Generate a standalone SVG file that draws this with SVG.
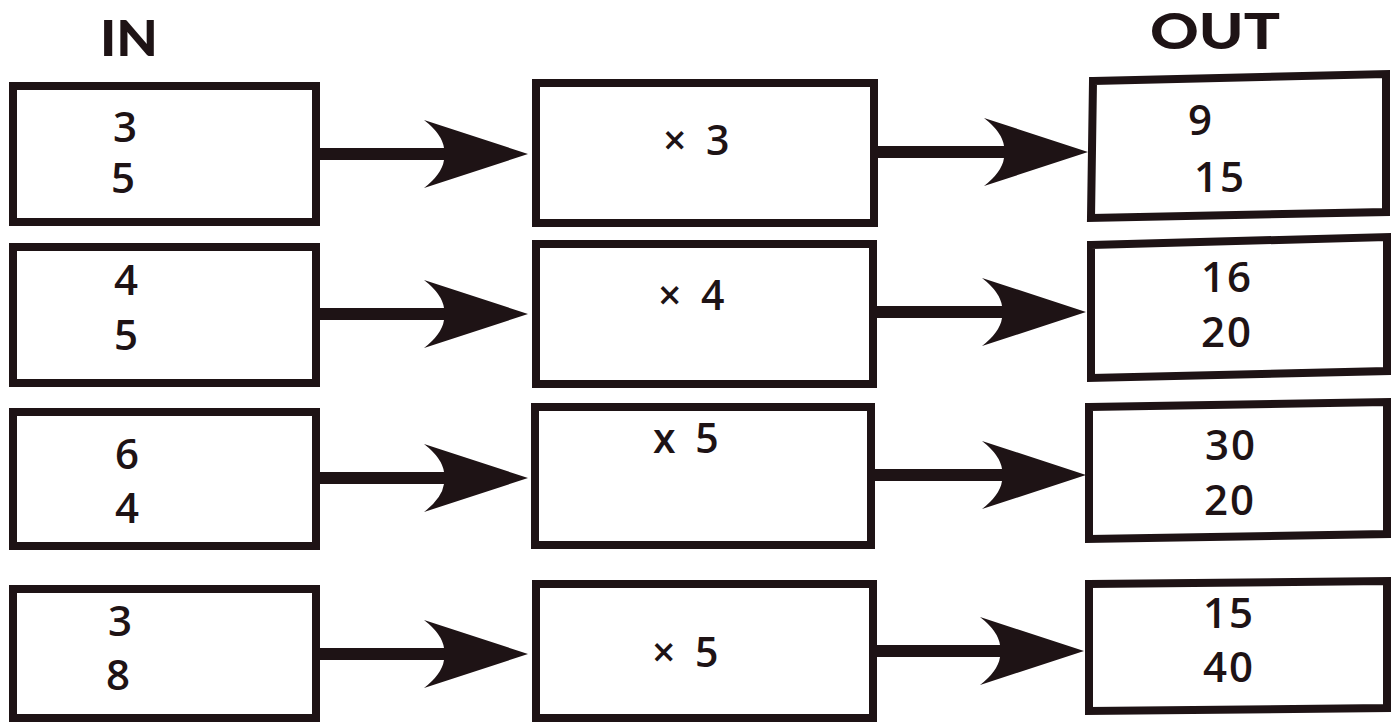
<svg xmlns="http://www.w3.org/2000/svg" width="1392" height="724" viewBox="0 0 1392 724">
<style>
.box{fill:#ffffff;stroke:#1e1315;stroke-width:8;stroke-linejoin:miter}
.t{font-family:"Open Sans",Lato,sans-serif;font-size:42px;font-weight:600;fill:#1e1315;text-anchor:middle;letter-spacing:2px}
.op{font-family:"Open Sans",Lato,sans-serif;font-size:41px;font-weight:600;fill:#1e1315;word-spacing:9px}
.h{font-family:Lato,"DejaVu Sans",sans-serif;font-size:50px;font-weight:900;fill:#1e1315}
.c{stroke:#1e1315;stroke-width:12;fill:none;marker-end:url(#head)}
</style>
<defs>
<marker id="head" markerUnits="userSpaceOnUse" viewBox="0 0 106 68" markerWidth="106" markerHeight="68" refX="76" refY="34" orient="auto">
<path d="M106,34 L2,0 Q20,14 22,28 L22,40 Q20,54 2,68 Z" fill="#1e1315"/>
</marker>
</defs>
<rect width="1392" height="724" fill="#ffffff"/>
<g id="headers">
<text class="h" x="100" y="56" textLength="58" lengthAdjust="spacingAndGlyphs">IN</text>
<text class="h" x="1150" y="49" textLength="130" lengthAdjust="spacingAndGlyphs">OUT</text>
</g>
<g id="connectors">
<line class="c" x1="320" y1="154" x2="498" y2="154"/>
<line class="c" x1="878" y1="152" x2="1058" y2="152"/>
<line class="c" x1="320" y1="314" x2="498" y2="314"/>
<line class="c" x1="877" y1="312" x2="1056" y2="312"/>
<line class="c" x1="320" y1="478" x2="498" y2="478"/>
<line class="c" x1="875" y1="475" x2="1056" y2="475"/>
<line class="c" x1="320" y1="654" x2="498" y2="654"/>
<line class="c" x1="877" y1="651" x2="1054" y2="651"/>
</g>
<g id="in1"><rect class="box" x="13" y="86" width="303" height="136"/><text class="t" x="126" y="142">3</text><text class="t" x="124" y="193">5</text></g>
<g id="in2"><rect class="box" x="13" y="247" width="303" height="136"/><text class="t" x="127" y="295">4</text><text class="t" x="127" y="350">5</text></g>
<g id="in3"><rect class="box" x="13" y="412" width="303" height="134"/><text class="t" x="128" y="469">6</text><text class="t" x="128" y="523">4</text></g>
<g id="in4"><rect class="box" x="13" y="589" width="303" height="129"/><text class="t" x="121" y="636">3</text><text class="t" x="119" y="690">8</text></g>
<g id="op1"><rect class="box" x="536" y="83" width="338" height="140"/><text class="op" x="663" y="155">× 3</text></g>
<g id="op2"><rect class="box" x="536" y="244" width="337" height="140"/><text class="op" x="658" y="310">× 4</text></g>
<g id="op3"><rect class="box" x="535" y="407" width="336" height="138"/><text class="op" x="653" y="453">x 5</text></g>
<g id="op4"><rect class="box" x="536" y="584" width="337" height="134"/><text class="op" x="652" y="667">× 5</text></g>
<g id="out1"><polygon class="box" points="1093,81 1386,74 1386,212 1091,218"/><text class="t" x="1201" y="135">9</text><text class="t" x="1220" y="192">15</text></g>
<g id="out2"><polygon class="box" points="1091,245 1387,237 1387,371 1091,378"/><text class="t" x="1227" y="292">16</text><text class="t" x="1227" y="347">20</text></g>
<g id="out3"><polygon class="box" points="1089,407 1387,402 1387,534 1089,539"/><text class="t" x="1231" y="460">30</text><text class="t" x="1230" y="515">20</text></g>
<g id="out4"><polygon class="box" points="1089,584 1387,581 1387,708 1089,711"/><text class="t" x="1229" y="628">15</text><text class="t" x="1229" y="682">40</text></g>
</svg>
